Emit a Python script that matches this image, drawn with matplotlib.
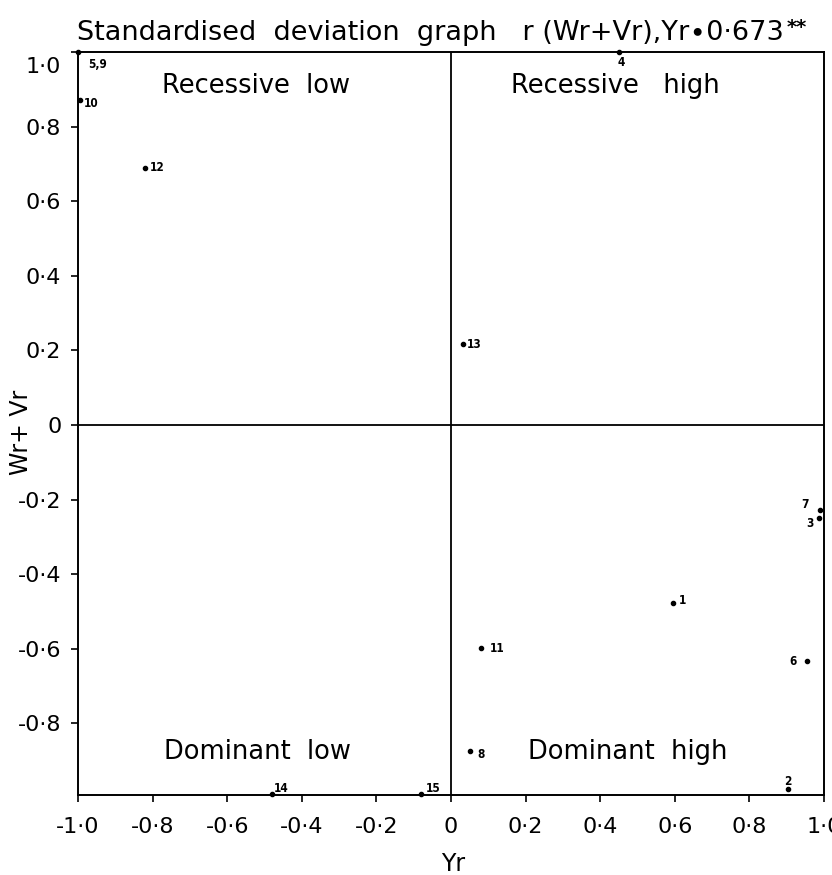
import matplotlib
matplotlib.use("Agg")
import matplotlib.pyplot as plt
import matplotlib.transforms as mtransforms

# Standardised deviation graph: (Wr+Vr) against Yr for each parent
parents = ["5,9", "10", "12", "4", "13", "7", "3", "6", "1", "11", "8", "15", "14", "2"]
yr = [-1.0, -0.995, -0.82, 0.45, 0.031, 0.989, 0.987, 0.954, 0.595, 0.080, 0.051, -0.080, -0.481, 0.903]
wr_vr = [1.0, 0.87, 0.69, 1.0, 0.216, -0.228, -0.249, -0.633, -0.476, -0.598, -0.874, -0.99, -0.99, -0.976]

x_ticks = [-1.0, -0.8, -0.6, -0.4, -0.2, 0.0, 0.2, 0.4, 0.6, 0.8, 1.0]
x_ticklabels = ["-1·0", "-0·8", "-0·6", "-0·4", "-0·2", "0", "0·2", "0·4", "0·6", "0·8", "1·0"]
y_ticks = [1.0, 0.8, 0.6, 0.4, 0.2, 0.0, -0.2, -0.4, -0.6, -0.8]
y_ticklabels = ["1·0", "0·8", "0·6", "0·4", "0·2", "0", "-0·2", "-0·4", "-0·6", "-0·8"]

quadrant_names = ["Recessive  low", "Recessive   high", "Dominant  low", "Dominant  high"]

# label placement around each point, in pixels (dx, dy)
label_offsets = {
    "5,9": (20, -12), "10": (11, -3), "12": (12, 0), "4": (2, -10),
    "13": (12, 0), "7": (-15, 6), "3": (-9, -6), "6": (-14, 0),
    "1": (10, 2), "11": (16, 0), "8": (11, -4), "15": (12, 6),
    "14": (10, 6), "2": (0, 8),
}

W, H = 832, 875
fig = plt.figure(figsize=(W / 100, H / 100), dpi=100)
plt.rcParams["font.family"] = ["DejaVu Sans"]

left, right, top, bottom = 78, 824, 52, 795
ax = fig.add_axes([left / W, 1 - bottom / H, (right - left) / W, (bottom - top) / H])
ax.set_xlim(-1.0, 1.0)
ax.set_ylim(-0.992, 1.0)

for s in ax.spines.values():
    s.set_linewidth(1.4)
    s.set_color("black")

# quadrant dividers
ax.axvline(0, color="black", lw=1.3)
ax.axhline(0, color="black", lw=1.3)

ax.plot(yr, wr_vr, "o", color="black", ms=3, clip_on=False, zorder=5)
for name, x, y in zip(parents, yr, wr_vr):
    dx, dy = label_offsets[name]
    ax.annotate(name, (x, y), xytext=(dx, dy), textcoords="offset pixels",
                ha="center", va="center", fontsize=8.5, fontweight="bold",
                fontstretch="condensed", annotation_clip=False)

ax.set_xticks(x_ticks)
ax.set_xticklabels(x_ticklabels)
ax.set_yticks(y_ticks)
ax.set_yticklabels(y_ticklabels)
ax.tick_params(axis="both", direction="out", length=5, width=1.2, labelsize=16, colors="black")
ax.tick_params(axis="x", pad=11)
ax.tick_params(axis="y", pad=7)

# the top y label sits just under the frame
lab_top = ax.get_yticklabels()[0]
lab_top.set_transform(lab_top.get_transform() + mtransforms.ScaledTranslation(0, -13 / 100, fig.dpi_scale_trans))

qfs = 18.5
ax.text(-0.523, 0.909, quadrant_names[0], ha="center", va="center", fontsize=qfs)
ax.text(0.44, 0.909, quadrant_names[1], ha="center", va="center", fontsize=qfs)
ax.text(-0.52, -0.877, quadrant_names[2], ha="center", va="center", fontsize=qfs)
ax.text(0.475, -0.877, quadrant_names[3], ha="center", va="center", fontsize=qfs)

fig.text(453 / W, 1 - 864 / H, "Yr", ha="center", va="center", fontsize=17)
fig.text(21 / W, 1 - 432 / H, "Wr+ Vr", ha="center", va="center", rotation=90, fontsize=17)

title = fig.text(77 / W, 1 - 40 / H, "Standardised  deviation  graph   r (Wr+Vr),Yr∙0·673",
                 ha="left", va="baseline", fontsize=19.5)
fig.canvas.draw()
bb = title.get_window_extent()
fig.text((bb.x1 + 3) / W, (bb.y1 - 8) / H, "**", ha="left", va="center",
         fontsize=14, fontweight="bold")

fig.savefig("out.png", dpi=100)
